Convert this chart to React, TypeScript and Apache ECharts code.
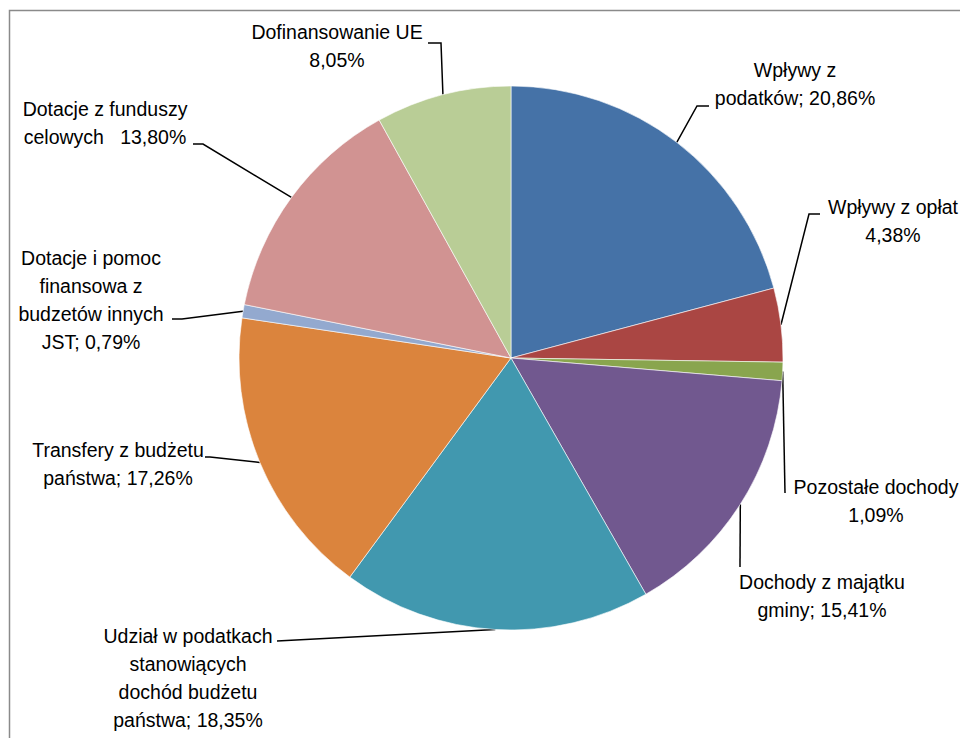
import React, { useEffect, useRef } from "react";
import * as echarts from "echarts";

// ---- data ----
const categories: string[] = [
  "Wpływy z\npodatków",
  "Wpływy z opłat",
  "Pozostałe dochody",
  "Dochody z majątku\ngminy",
  "Udział w podatkach\nstanowiących\ndochód budżetu\npaństwa",
  "Transfery z budżetu\npaństwa",
  "Dotacje i pomoc\nfinansowa z\nbudzetów innych\nJST",
  "Dotacje z funduszy\ncelowych",
  "Dofinansowanie UE",
];
const shares: number[] = [20.86, 4.38, 1.09, 15.41, 18.35, 17.26, 0.79, 13.8, 8.05];
const separators: string[] = ["; ", "\n", "\n", "; ", "; ", "; ", "; ", "   ", "\n"];

// ---- styles / layout ----
const colors = [
  "#4572A7",
  "#AA4643",
  "#89A54E",
  "#71588F",
  "#4198AF",
  "#DB843D",
  "#93A9CF",
  "#D19392",
  "#B9CD96",
];

// label centre, elbow and end of leader line (pixels)
const labelLayouts = [
  { x: 795, y: 84, elbow: [697, 106], end: [709, 106] },
  { x: 893, y: 221, elbow: [809, 214], end: [820, 214] },
  { x: 876, y: 501, elbow: [785, 493], end: [785, 493] },
  { x: 822, y: 596, elbow: [740, 567], end: [740, 567] },
  { x: 188, y: 678, elbow: [277, 641], end: [277, 641] },
  { x: 118, y: 464, elbow: [210, 457], end: [205, 457] },
  { x: 91, y: 300, elbow: [182, 319], end: [172, 319] },
  { x: 105, y: 123, elbow: [203, 144], end: [193, 144] },
  { x: 337, y: 46, elbow: [441, 43], end: [428, 43] },
];

const FONT = "'Liberation Sans', Arial, sans-serif";

export default function App() {
  const ref = useRef<HTMLDivElement>(null);

  useEffect(() => {
    if (!ref.current) return;
    const chart = echarts.init(ref.current, undefined, { renderer: "svg" });
    const cx = 511;
    const cy = 358;
    const r = 272;
    chart.setOption({
      animation: false,
      backgroundColor: "#ffffff",
      color: colors,
      graphic: [
        {
          type: "rect",
          shape: { x: 9.5, y: 10.5, width: 1000, height: 1000 },
          style: { fill: "none", stroke: "#8a8a8a", lineWidth: 1.5 },
          silent: true,
        },
      ],
      series: [
        {
          type: "pie",
          center: [cx, cy],
          radius: [0, r],
          startAngle: 90,
          clockwise: true,
          avoidLabelOverlap: false,
          itemStyle: { borderColor: "#ffffff", borderWidth: 0.6 },
          label: {
            show: true,
            position: "outside",
            color: "#000000",
            fontSize: 19.5,
            lineHeight: 28,
            fontFamily: FONT,
            formatter: (p: any) =>
              categories[p.dataIndex] +
              separators[p.dataIndex] +
              shares[p.dataIndex].toFixed(2).replace(".", ",") +
              "%",
          },
          labelLine: {
            show: true,
            length: 10,
            length2: 10,
            lineStyle: { color: "#000000", width: 1.5 },
          },
          labelLayout: (params: any) => {
            const i = params.dataIndex;
            const L = labelLayouts[i];
            let p0 = params.labelLinePoints && params.labelLinePoints[0];
            if (!p0) {
              let before = 0;
              for (let k = 0; k < i; k++) before += shares[k];
              const total = shares.reduce((a, b) => a + b, 0);
              const ang = ((before + shares[i] / 2) / total) * Math.PI * 2;
              p0 = [cx + r * Math.sin(ang), cy - r * Math.cos(ang)];
            }
            return {
              x: L.x,
              y: L.y,
              align: "center",
              verticalAlign: "middle",
              labelLinePoints: [p0, L.elbow, L.end],
            };
          },
          data: categories.map((name, i) => ({ name, value: shares[i] })),
        },
      ],
    });
    return () => chart.dispose();
  }, []);

  return (
    <div
      ref={ref}
      style={{ position: "fixed", left: 0, top: 0, width: 960, height: 738 }}
    />
  );
}
